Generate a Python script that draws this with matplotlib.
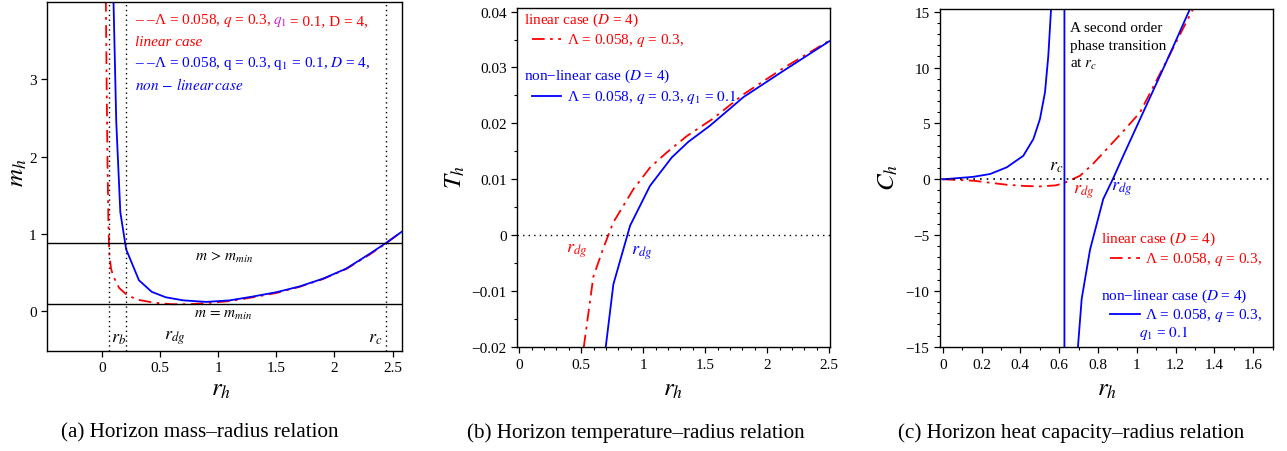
import matplotlib
matplotlib.use("Agg")
import matplotlib.pyplot as plt
from matplotlib.ticker import MultipleLocator, FixedLocator

plt.rcParams['font.family'] = ['Liberation Serif', 'DejaVu Serif']
plt.rcParams['mathtext.fontset'] = 'stix'

# ---------------- data ----------------
# (a) horizon mass vs radius
ra_lin = [0.035, 0.042, 0.05, 0.058, 0.065, 0.08, 0.1, 0.15, 0.21, 0.3, 0.45, 0.6, 0.75, 0.9, 1.1, 1.3, 1.5,
          1.7, 1.9, 2.1, 2.3, 2.44, 2.58]
ma_lin = [4.1, 3.0, 1.9, 1.1, 0.75, 0.55, 0.45, 0.3, 0.22, 0.15, 0.11, 0.09, 0.09, 0.105, 0.13, 0.18, 0.235,
          0.315, 0.415, 0.545, 0.73, 0.875, 1.03]
ra_nl = [0.10, 0.125, 0.16, 0.21, 0.32, 0.43, 0.55, 0.7, 0.9, 1.1, 1.3, 1.5, 1.7, 1.9, 2.1, 2.3, 2.44, 2.58]
ma_nl = [4.1, 2.45, 1.28, 0.80, 0.40, 0.25, 0.18, 0.14, 0.12, 0.14, 0.19, 0.245, 0.32, 0.42, 0.55, 0.74, 0.88, 1.03]
m_levels = [0.88, 0.09]
r_marks = [0.06, 0.21, 2.44]

# (b) horizon temperature vs radius
rb_lin = [0.52, 0.597, 0.68, 0.759, 0.92, 1.055, 1.19, 1.35, 1.566, 1.808, 2.13, 2.5]
Tb_lin = [-0.0201, -0.0075, -0.0022, 0.0023, 0.0082, 0.0121, 0.0148, 0.0177, 0.0209, 0.0252, 0.0299, 0.0348]
rb_nl = [0.697, 0.759, 0.894, 1.054, 1.23, 1.364, 1.539, 1.808, 2.13, 2.5]
Tb_nl = [-0.0201, -0.0088, 0.0017, 0.0088, 0.0139, 0.0167, 0.0196, 0.0247, 0.0294, 0.0347]

# (c) heat capacity vs radius
rc_lin = [0.0, 0.158, 0.33, 0.42, 0.501, 0.58, 0.621, 0.668, 0.707, 0.77, 0.845, 0.93, 1.017, 1.1, 1.2, 1.3]
Cc_lin = [0.0, -0.13, -0.49, -0.6, -0.64, -0.55, -0.37, 0.0, 0.31, 1.3, 2.71, 4.3, 6.0, 8.8, 12.2, 15.6]
rc_nl = [0.0, 0.02, 0.158, 0.244, 0.33, 0.415, 0.467, 0.501, 0.527, 0.544, 0.558, 0.575, 0.627, 0.627, 0.69,
         0.716, 0.759, 0.827, 0.876, 0.93, 1.017, 1.12, 1.17, 1.28]
Cc_nl = [0.0, 0.02, 0.22, 0.47, 1.07, 2.1, 3.6, 5.4, 7.8, 11.06, 15.2, 20.0, 200.0, -200.0, -16.5,
         -10.7, -6.3, -1.77, 0.0, 2.1, 5.4, 9.3, 11.2, 15.5]

RED = '#ff0000'
BLUE = '#0000ff'
W, H = 1287, 452
fig = plt.figure(figsize=(W / 100, H / 100), dpi=100)


def box(l, r, t, b):
    return [l / W, (H - b) / H, (r - l) / W, (b - t) / H]


DASHDOT = (0, (7, 3, 1.5, 3))
TICKFS = 11


def style(ax):
    ax.tick_params(direction='out', labelsize=TICKFS, length=4, width=0.9, top=False, right=False)
    ax.tick_params(which='minor', direction='out', length=2.5, width=0.8)
    for s in ax.spines.values():
        s.set_linewidth(1.0)


FS = 11
RFS = 13

# ---------------- panel (a) ----------------
axa = fig.add_axes(box(47, 402, 3, 351.6))
axa.plot(ra_lin, ma_lin, color=RED, lw=1.3, ls=DASHDOT)
axa.plot(ra_nl, ma_nl, color=BLUE, lw=1.3)
for m in m_levels:
    axa.axhline(m, color='black', lw=1.0)
for r in r_marks:
    axa.axvline(r, color='black', lw=1.0, ls=(0, (1, 2.5)))
axa.set_xlim(-0.47, 2.58)
axa.set_ylim(-0.51, 4.0)
axa.xaxis.set_major_locator(FixedLocator([0, 0.5, 1, 1.5, 2, 2.5]))
axa.set_xticklabels(['0', '0.5', '1', '1.5', '2', '2.5'])
axa.yaxis.set_major_locator(FixedLocator([0, 1, 2, 3]))
style(axa)
t1 = axa.text(0.29, 3.78, '– –Λ = 0.058, $q$ = 0.3, ', color=RED, fontsize=FS, va='center')
t2 = axa.annotate('$q_1$', xy=(1, 0), xycoords=t1, va='bottom', ha='left', color='#d020d0', fontsize=FS)
axa.annotate(' = 0.1, D = 4,', xy=(1, 0), xycoords=t2, va='bottom', ha='left', color=RED, fontsize=FS)
axa.text(0.29, 3.49, 'linear case', color=RED, fontsize=FS, va='center', style='italic')
axa.text(0.29, 3.22, '– –Λ = 0.058, q = 0.3, q$_\\mathrm{1}$ = 0.1, $D$ = 4,', color=BLUE, fontsize=FS, va='center')
axa.text(0.29, 2.94, '$non\\,-\\,linear\\,case$', color=BLUE, fontsize=FS, va='center')
axa.text(1.05, 0.71, '$m\\,>\\,m_{min}$', fontsize=FS, ha='center', va='center')
axa.text(1.04, -0.04, '$m\\,=\\,m_{min}$', fontsize=FS, ha='center', va='center')
axa.text(0.14, -0.34, '$r_b$', fontsize=RFS, ha='center', va='center')
axa.text(0.63, -0.34, '$r_{dg}$', fontsize=RFS, ha='center', va='center')
axa.text(2.35, -0.34, '$r_c$', fontsize=RFS, ha='center', va='center')

# ---------------- panel (b) ----------------
axb = fig.add_axes(box(517.3, 830, 9.3, 348.3))
axb.plot(rb_lin, Tb_lin, color=RED, lw=1.3, ls=DASHDOT)
axb.plot(rb_nl, Tb_nl, color=BLUE, lw=1.3)
axb.axhline(0, color='black', lw=1.0, ls=(0, (1, 3)))
axb.set_xlim(-0.016, 2.506)
axb.set_ylim(-0.0201, 0.0406)
axb.xaxis.set_major_locator(FixedLocator([0, 0.5, 1, 1.5, 2, 2.5]))
axb.set_xticklabels(['0', '0.5', '1', '1.5', '2', '2.5'])
axb.xaxis.set_minor_locator(MultipleLocator(0.1))
axb.yaxis.set_major_locator(FixedLocator([-0.02, -0.01, 0, 0.01, 0.02, 0.03, 0.04]))
axb.set_yticklabels(['−0.02', '−0.01', '0', '0.01', '0.02', '0.03', '0.04'])
axb.yaxis.set_minor_locator(MultipleLocator(0.005))
style(axb)
axb.text(0.04, 0.0387, 'linear case ($D$ = 4)', color=RED, fontsize=FS, va='center')
axb.plot([0.10, 0.334], [0.0351, 0.0351], color=RED, lw=1.3, ls=DASHDOT)
axb.text(0.385, 0.0351, 'Λ = 0.058, $q$ = 0.3,', color=RED, fontsize=FS, va='center')
axb.text(0.04, 0.02866, 'non−linear case ($D$ = 4)', color=BLUE, fontsize=FS, va='center')
axb.plot([0.10, 0.334], [0.02496, 0.02496], color=BLUE, lw=1.3)
axb.text(0.385, 0.02496, 'Λ = 0.058, $q$ = 0.3, $q_1$ = $0.1$', color=BLUE, fontsize=FS, va='center')
axb.text(0.463, -0.0028, '$r_{dg}$', color=RED, fontsize=RFS, ha='center', va='center')
axb.text(0.988, -0.0031, '$r_{dg}$', color=BLUE, fontsize=RFS, ha='center', va='center')

# ---------------- panel (c) ----------------
axc = fig.add_axes(box(940, 1272.7, 10, 348.3))
axc.plot(rc_lin, Cc_lin, color=RED, lw=1.3, ls=DASHDOT)
axc.plot(rc_nl, Cc_nl, color=BLUE, lw=1.3)
axc.axhline(0, color='black', lw=1.2, ls=(0, (1, 3)))
axc.set_xlim(-0.014, 1.70)
axc.set_ylim(-15.05, 15.25)
axc.xaxis.set_major_locator(FixedLocator([0, 0.2, 0.4, 0.6, 0.8, 1, 1.2, 1.4, 1.6]))
axc.set_xticklabels(['0', '0.2', '0.4', '0.6', '0.8', '1', '1.2', '1.4', '1.6'])
axc.xaxis.set_minor_locator(MultipleLocator(0.1))
axc.yaxis.set_major_locator(FixedLocator([-15, -10, -5, 0, 5, 10, 15]))
axc.set_yticklabels(['−15', '−10', '−5', '0', '5', '10', '15'])
axc.yaxis.set_minor_locator(MultipleLocator(1))
style(axc)
axc.text(0.656, 13.6, 'A second order', fontsize=FS, va='center')
axc.text(0.656, 11.96, 'phase transition', fontsize=FS, va='center')
axc.text(0.656, 10.4, 'at $r_c$', fontsize=FS, va='center')
axc.text(0.587, 1.21, '$r_c$', fontsize=RFS, ha='center', va='center')
axc.text(0.728, -1.03, '$r_{dg}$', color=RED, fontsize=RFS, ha='center', va='center')
axc.text(0.922, -0.81, '$r_{dg}$', color=BLUE, fontsize=RFS, ha='center', va='center')
axc.text(0.814, -5.29, 'linear case ($D$ = 4)', color=RED, fontsize=FS, va='center')
axc.plot([0.862, 1.017], [-7.08, -7.08], color=RED, lw=1.3, ls=DASHDOT)
axc.text(1.043, -7.08, 'Λ = 0.058, $q$ = 0.3,', color=RED, fontsize=FS, va='center')
axc.text(0.814, -10.37, 'non−linear case ($D$ = 4)', color=BLUE, fontsize=FS, va='center')
axc.plot([0.862, 1.017], [-12.1, -12.1], color=BLUE, lw=1.3)
axc.text(1.043, -12.1, 'Λ = 0.058, $q$ = 0.3,', color=BLUE, fontsize=FS, va='center')
axc.text(1.013, -13.7, '$q_1$ = $0.1$', color=BLUE, fontsize=FS, va='center')

# ---------------- axis labels & captions ----------------
LFS = 18
fig.text(18 / W, 1 - 173 / H, '$m_h$', rotation=90, fontsize=LFS, ha='center', va='center')
fig.text(221 / W, 1 - 390 / H, '$r_h$', fontsize=LFS, ha='center', va='center')
fig.text(455 / W, 1 - 177 / H, '$T_h$', rotation=90, fontsize=LFS, ha='center', va='center')
fig.text(673 / W, 1 - 390 / H, '$r_h$', fontsize=LFS, ha='center', va='center')
fig.text(888 / W, 1 - 177 / H, '$C_h$', rotation=90, fontsize=LFS, ha='center', va='center')
fig.text(1107 / W, 1 - 390 / H, '$r_h$', fontsize=LFS, ha='center', va='center')

CFS = 15.2
fig.text(200 / W, 1 - 433 / H, '(a) Horizon mass–radius relation', fontsize=CFS, ha='center', va='center')
fig.text(636 / W, 1 - 433 / H, '(b) Horizon temperature–radius relation', fontsize=CFS, ha='center', va='center')
fig.text(1071 / W, 1 - 433 / H, '(c) Horizon heat capacity–radius relation', fontsize=CFS, ha='center', va='center')

fig.savefig('out.png', dpi=100)
